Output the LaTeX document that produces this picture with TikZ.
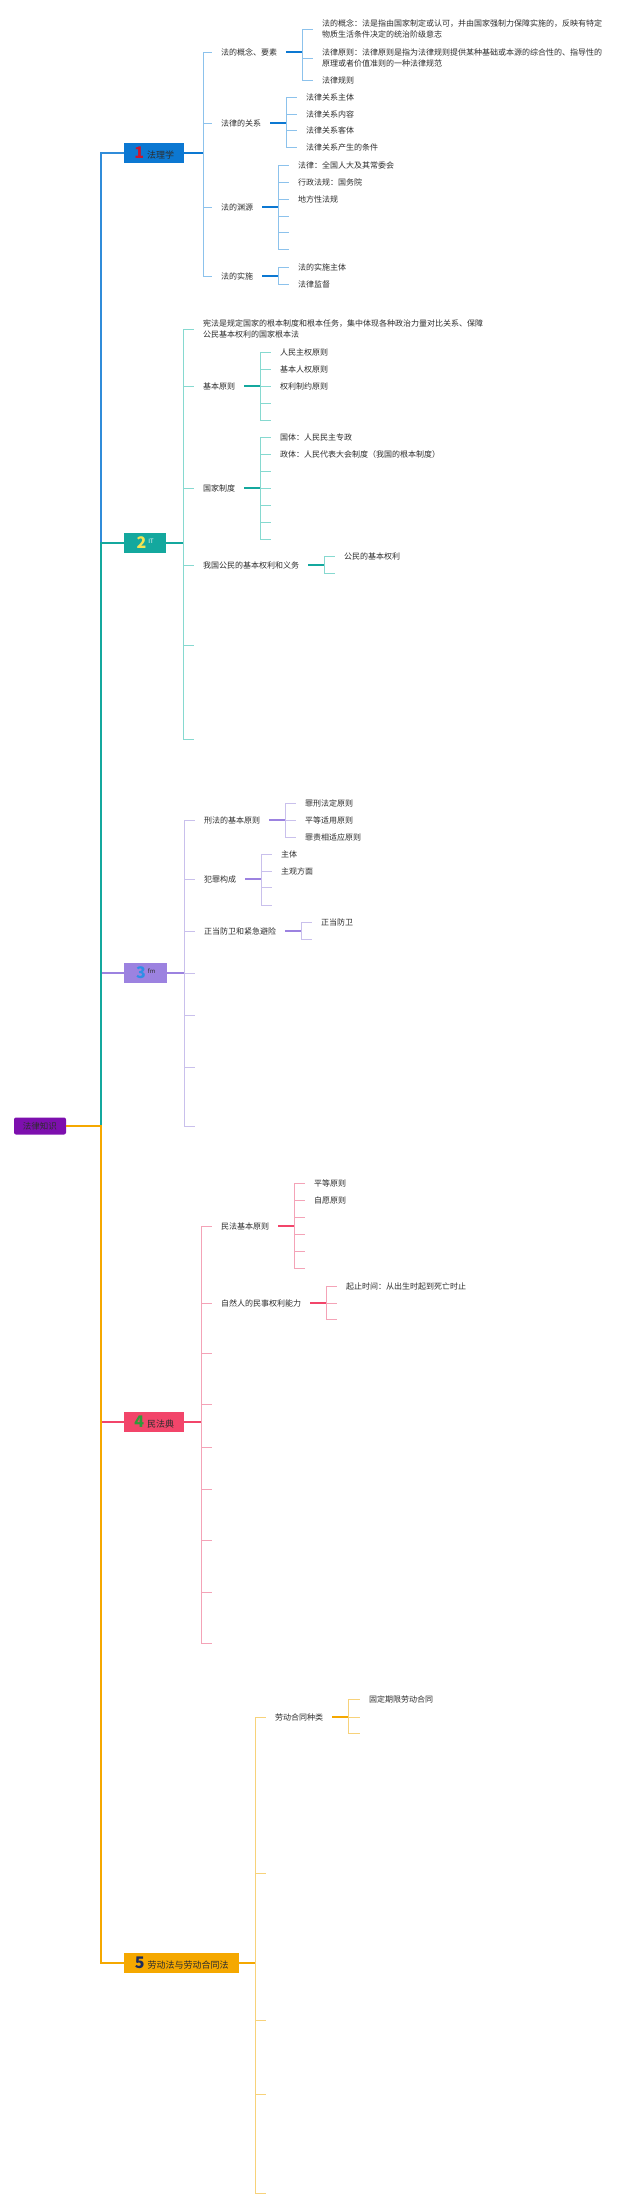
\documentclass[tikz,border=0pt]{standalone}
\usepackage{fontspec}
\setmainfont{Noto Sans CJK SC}
\definecolor{ink}{RGB}{45, 45, 45}
\definecolor{rootpurple}{RGB}{125, 15, 174}
\definecolor{lawblue}{RGB}{12, 120, 210}
\definecolor{lawbluelt}{RGB}{140, 194, 236}
\definecolor{itteal}{RGB}{20, 168, 158}
\definecolor{itteallt}{RGB}{134, 217, 208}
\definecolor{crimviolet}{RGB}{156, 130, 224}
\definecolor{crimvioletlt}{RGB}{201, 192, 236}
\definecolor{civilred}{RGB}{242, 69, 106}
\definecolor{civilredlt}{RGB}{244, 163, 183}
\definecolor{labourorange}{RGB}{245, 168, 0}
\definecolor{labourorangelt}{RGB}{247, 210, 122}
\definecolor{numred}{RGB}{200, 22, 47}
\definecolor{numyellow}{RGB}{243, 227, 82}
\definecolor{numblue}{RGB}{46, 143, 230}
\definecolor{numgreen}{RGB}{47, 154, 58}
\definecolor{numnavy}{RGB}{29, 44, 92}
\newcommand{\topicnum}[2]{{\fontsize{16}{16}\selectfont\bfseries\textcolor{#1}{#2}}}
\newcommand{\topicsup}[2]{\raisebox{5pt}{\fontsize{6}{6}\selectfont\textcolor{#1}{#2}}}

\begin{document}
\begin{tikzpicture}[
  x=1pt, y=-1pt,
  leaf/.style={anchor=west, inner xsep=9pt, inner ysep=1pt, font=\fontsize{8}{11.5}\selectfont, text=ink, align=left},
  topicbox/.style={anchor=west, minimum height=20pt, inner sep=0pt, font=\fontsize{9}{9}\selectfont, text=ink},
  trunk/.style={line width=2.6pt},
  stem/.style={line width=1.4pt},
  twig/.style={line width=0.9pt}
]
  \useasboundingbox (0,0) rectangle (640,2208);

  % root and main topics
  \node[fill=rootpurple, rounded corners=2pt, minimum width=52pt, minimum height=17pt, inner sep=0pt, font=\fontsize{8.5}{8.5}\selectfont, text=ink] (root) at (40,1126) {法律知识};
  \coordinate (hub) at (101,1126);
  \node[topicbox, fill=lawblue, minimum width=60pt] (jurist) at (124,153) {\topicnum{numred}{1}\hspace{3pt}法理学};
  \node[topicbox, fill=itteal, minimum width=42pt] (consti) at (124,543) {\topicnum{numyellow}{2}\hspace{2pt}\topicsup{white}{IT}};
  \node[topicbox, fill=crimviolet, minimum width=43pt] (crimlaw) at (124,973) {\topicnum{numblue}{3}\hspace{2pt}\topicsup{ink}{fm}};
  \node[topicbox, fill=civilred, minimum width=60pt] (civcode) at (124,1422) {\topicnum{numgreen}{4}\hspace{3pt}民法典};
  \node[topicbox, fill=labourorange, minimum width=115pt] (labour) at (124,1963) {\topicnum{numnavy}{5}\hspace{3pt}劳动法与劳动合同法};

  \draw[trunk, lawblue!85] (root.east) -- (hub) |- (jurist.west);
  \draw[trunk, crimviolet] (root.east) -- (hub) |- (crimlaw.west);
  \draw[trunk, itteal] (root.east) -- (hub) |- (consti.west);
  \draw[trunk, civilred] (root.east) -- (hub) |- (civcode.west);
  \draw[trunk, labourorange] (root.east) -- (hub) |- (labour.west);

  % 1 法理学
  \coordinate (jJ) at (203,153);
  \node[leaf] (concept) at (212,52) {法的概念、要素};
  \node[leaf] (relation) at (212,123) {法律的关系};
  \node[leaf] (source) at (212,207) {法的渊源};
  \node[leaf] (enforce) at (212,276) {法的实施};
  \foreach \n in {concept, relation, source, enforce} \draw[twig, lawbluelt] (jJ) |- (\n.west);
  \draw[stem, lawblue] (jurist.east) -- (jJ);

  \coordinate (jConcept) at (302,52);
  \node[leaf] (defn) at (313,29) {法的概念：法是指由国家制定或认可，并由国家强制力保障实施的，反映有特定\\物质生活条件决定的统治阶级意志};
  \node[leaf] (princ) at (313,58) {法律原则：法律原则是指为法律规则提供某种基础或本源的综合性的、指导性的\\原理或者价值准则的一种法律规范};
  \node[leaf] (rules) at (313,80) {法律规则};
  \foreach \n in {defn, princ, rules} \draw[twig, lawbluelt] (jConcept) |- (\n.west);
  \draw[stem, lawblue] (concept.east) -- (jConcept);

  \coordinate (jRelation) at (286,123);
  \node[leaf] (subj) at (297,97) {法律关系主体};
  \node[leaf] (cont) at (297,114) {法律关系内容};
  \node[leaf] (obj) at (297,130) {法律关系客体};
  \node[leaf] (cond) at (297,147) {法律关系产生的条件};
  \foreach \n in {subj, cont, obj, cond} \draw[twig, lawbluelt] (jRelation) |- (\n.west);
  \draw[stem, lawblue] (relation.east) -- (jRelation);

  \coordinate (jSource) at (278,207);
  \node[leaf] (statute) at (289,165) {法律：全国人大及其常委会};
  \node[leaf] (admin) at (289,182) {行政法规：国务院};
  \node[leaf] (local) at (289,199) {地方性法规};
  \foreach \y [count=\i] in {216,232,249} \coordinate (srcE\i) at (289,\y);
  \foreach \n in {statute, admin, local, srcE1, srcE2, srcE3} \draw[twig, lawbluelt] (jSource) |- (\n);
  \draw[stem, lawblue] (source.east) -- (jSource);

  \coordinate (jEnforce) at (278,276);
  \node[leaf] (actor) at (289,267) {法的实施主体};
  \node[leaf] (superv) at (289,284) {法律监督};
  \foreach \n in {actor, superv} \draw[twig, lawbluelt] (jEnforce) |- (\n.west);
  \draw[stem, lawblue] (enforce.east) -- (jEnforce);

  % 2 宪法
  \coordinate (jC) at (183,543);
  \node[leaf] (charter) at (194,329) {宪法是规定国家的根本制度和根本任务，集中体现各种政治力量对比关系、保障\\公民基本权利的国家根本法};
  \node[leaf] (basic) at (194,386) {基本原则};
  \node[leaf] (system) at (194,488) {国家制度};
  \node[leaf] (rights) at (194,565) {我国公民的基本权利和义务};
  \coordinate (conE1) at (194,645);
  \coordinate (conE2) at (194,739);
  \foreach \n in {charter.west, basic.west, system.west, rights.west, conE1, conE2} \draw[twig, itteallt] (jC) |- (\n);
  \draw[stem, itteal] (consti.east) -- (jC);

  \coordinate (jBasic) at (260,386);
  \node[leaf] (sovereign) at (271,352) {人民主权原则};
  \node[leaf] (humanr) at (271,369) {基本人权原则};
  \node[leaf] (checks) at (271,386) {权利制约原则};
  \coordinate (basE1) at (271,403);
  \coordinate (basE2) at (271,420);
  \foreach \n in {sovereign.west, humanr.west, checks.west, basE1, basE2} \draw[twig, itteallt] (jBasic) |- (\n);
  \draw[stem, itteal] (basic.east) -- (jBasic);

  \coordinate (jSystem) at (260,488);
  \node[leaf] (state) at (271,437) {国体：人民民主专政};
  \node[leaf] (govern) at (271,454) {政体：人民代表大会制度（我国的根本制度）};
  \foreach \y [count=\i] in {471,488,505,522,539} \coordinate (sysE\i) at (271,\y);
  \foreach \n in {state.west, govern.west, sysE1, sysE2, sysE3, sysE4, sysE5} \draw[twig, itteallt] (jSystem) |- (\n);
  \draw[stem, itteal] (system.east) -- (jSystem);

  \coordinate (jRights) at (324,565);
  \node[leaf] (citizen) at (335,556) {公民的基本权利};
  \coordinate (rigE1) at (335,573);
  \foreach \n in {citizen.west, rigE1} \draw[twig, itteallt] (jRights) |- (\n);
  \draw[stem, itteal] (rights.east) -- (jRights);

  % 3 刑法
  \coordinate (jK) at (184,973);
  \node[leaf] (crimbase) at (195,820) {刑法的基本原则};
  \node[leaf] (offence) at (195,879) {犯罪构成};
  \node[leaf] (defence) at (195,931) {正当防卫和紧急避险};
  \foreach \y [count=\i] in {973,1015,1067,1126} \coordinate (crimE\i) at (195,\y);
  \foreach \n in {crimbase.west, offence.west, defence.west, crimE1, crimE2, crimE3, crimE4} \draw[twig, crimvioletlt] (jK) |- (\n);
  \draw[stem, crimviolet] (crimlaw.east) -- (jK);

  \coordinate (jCrimbase) at (285,820);
  \node[leaf] (legality) at (296,803) {罪刑法定原则};
  \node[leaf] (equality) at (296,820) {平等适用原则};
  \node[leaf] (proport) at (296,837) {罪责相适应原则};
  \foreach \n in {legality, equality, proport} \draw[twig, crimvioletlt] (jCrimbase) |- (\n.west);
  \draw[stem, crimviolet] (crimbase.east) -- (jCrimbase);

  \coordinate (jOffence) at (261,879);
  \node[leaf] (actorc) at (272,854) {主体};
  \node[leaf] (intent) at (272,871) {主观方面};
  \coordinate (offE1) at (272,887);
  \coordinate (offE2) at (272,905);
  \foreach \n in {actorc.west, intent.west, offE1, offE2} \draw[twig, crimvioletlt] (jOffence) |- (\n);
  \draw[stem, crimviolet] (offence.east) -- (jOffence);

  \coordinate (jDefence) at (301,931);
  \node[leaf] (selfdef) at (312,922) {正当防卫};
  \coordinate (defE1) at (312,939);
  \foreach \n in {selfdef.west, defE1} \draw[twig, crimvioletlt] (jDefence) |- (\n);
  \draw[stem, crimviolet] (defence.east) -- (jDefence);

  % 4 民法典
  \coordinate (jM) at (201,1422);
  \node[leaf] (civbase) at (212,1226) {民法基本原则};
  \node[leaf] (capacity) at (212,1303) {自然人的民事权利能力};
  \foreach \y [count=\i] in {1353,1404,1447,1489,1540,1592,1643} \coordinate (civE\i) at (212,\y);
  \foreach \n in {civbase.west, capacity.west, civE1, civE2, civE3, civE4, civE5, civE6, civE7} \draw[twig, civilredlt] (jM) |- (\n);
  \draw[stem, civilred] (civcode.east) -- (jM);

  \coordinate (jCivbase) at (294,1226);
  \node[leaf] (equal) at (305,1183) {平等原则};
  \node[leaf] (volunt) at (305,1200) {自愿原则};
  \foreach \y [count=\i] in {1217,1234,1251,1268} \coordinate (cbE\i) at (305,\y);
  \foreach \n in {equal.west, volunt.west, cbE1, cbE2, cbE3, cbE4} \draw[twig, civilredlt] (jCivbase) |- (\n);
  \draw[stem, civilred] (civbase.east) -- (jCivbase);

  \coordinate (jCapacity) at (326,1303);
  \node[leaf] (span) at (337,1286) {起止时间：从出生时起到死亡时止};
  \coordinate (capE1) at (337,1303);
  \coordinate (capE2) at (337,1319);
  \foreach \n in {span.west, capE1, capE2} \draw[twig, civilredlt] (jCapacity) |- (\n);
  \draw[stem, civilred] (capacity.east) -- (jCapacity);

  % 5 劳动法与劳动合同法
  \coordinate (jL) at (255,1963);
  \node[leaf] (contract) at (266,1717) {劳动合同种类};
  \foreach \y [count=\i] in {1873,2020,2094,2193} \coordinate (labE\i) at (266,\y);
  \foreach \n in {contract.west, labE1, labE2, labE3, labE4} \draw[twig, labourorangelt] (jL) |- (\n);
  \draw[stem, labourorange] (labour.east) -- (jL);

  \coordinate (jContract) at (348,1717);
  \node[leaf] (fixed) at (360,1699) {固定期限劳动合同};
  \coordinate (ctE1) at (360,1717);
  \coordinate (ctE2) at (360,1733);
  \foreach \n in {fixed.west, ctE1, ctE2} \draw[twig, labourorangelt] (jContract) |- (\n);
  \draw[stem, labourorange] (contract.east) -- (jContract);
\end{tikzpicture}
\end{document}
